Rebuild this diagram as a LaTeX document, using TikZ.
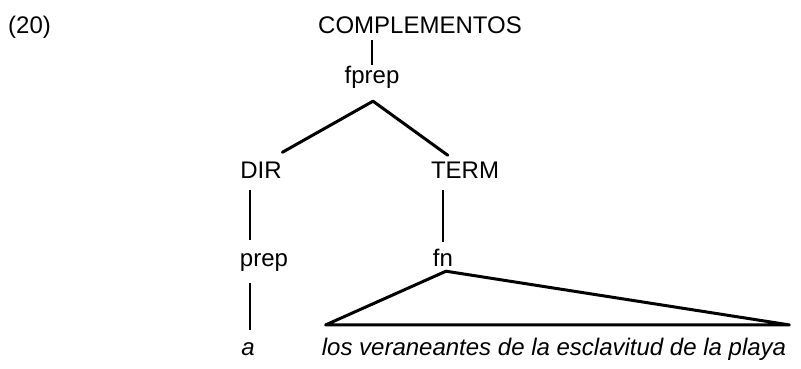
\documentclass[tikz,border=0pt]{standalone}
\usepackage{fontspec}
\setmainfont{Liberation Sans}
\usetikzlibrary{calc}

\tikzset{
  lab/.style={inner sep=0pt,anchor=base,font=\fontsize{24}{28}\selectfont},
  ilab/.style={lab,font=\fontsize{24}{28}\selectfont\itshape},
  stem/.style={line width=2.4pt},
  branch/.style={line width=3pt,line join=round,line cap=round}
}

\begin{document}
\begin{tikzpicture}[x=1pt,y=-1pt]
\useasboundingbox (0,0) rectangle (801,368);
\node[lab,anchor=base west] (ex) at (8,33){(20)};
\node[lab] (comp) at (420,33){COMPLEMENTOS};
\node[lab] (fprep) at (372,83){fprep};
\node[lab] (dir) at (261,178){DIR};
\node[lab] (term) at (465,178){TERM};
\node[lab] (prep) at (264,266){prep};
\node[lab] (fn) at (443,266){fn};
\node[ilab] (a) at (248,355){a};
\node[ilab] (frase) at (554,355){los veraneantes de la esclavitud de la playa};
\coordinate (fp) at ([xshift=1pt,yshift=-13pt]fprep.south);
\coordinate (tip) at ([xshift=3pt,yshift=-5pt]fn.south);
\coordinate (L) at ([xshift=4pt,yshift=12.5pt]frase.north west);
\coordinate (R) at ([xshift=3pt,yshift=12.5pt]frase.north east);
\draw[stem,shorten >=7pt] (fprep.north) -- (fprep.north |- comp.south);
\draw[branch] ([xshift=0.5pt,yshift=9pt]dir.north east) -- (fp) -- ([xshift=17pt,yshift=6pt]term.north west);
\draw[stem,shorten <=13pt,shorten >=12pt] ([xshift=10pt]prep.north west) -- ([xshift=10pt]prep.north west |- dir.south);
\draw[stem,shorten <=12pt,shorten >=12pt] ([xshift=2pt]a.north) -- ([xshift=2pt]a.north |- prep.south);
\draw[stem,shorten <=6.5pt,shorten >=12pt] (fn.north) -- (fn.north |- term.south);
\draw[branch] (L) -- (tip) -- (R) -- cycle;
\end{tikzpicture}
\end{document}
